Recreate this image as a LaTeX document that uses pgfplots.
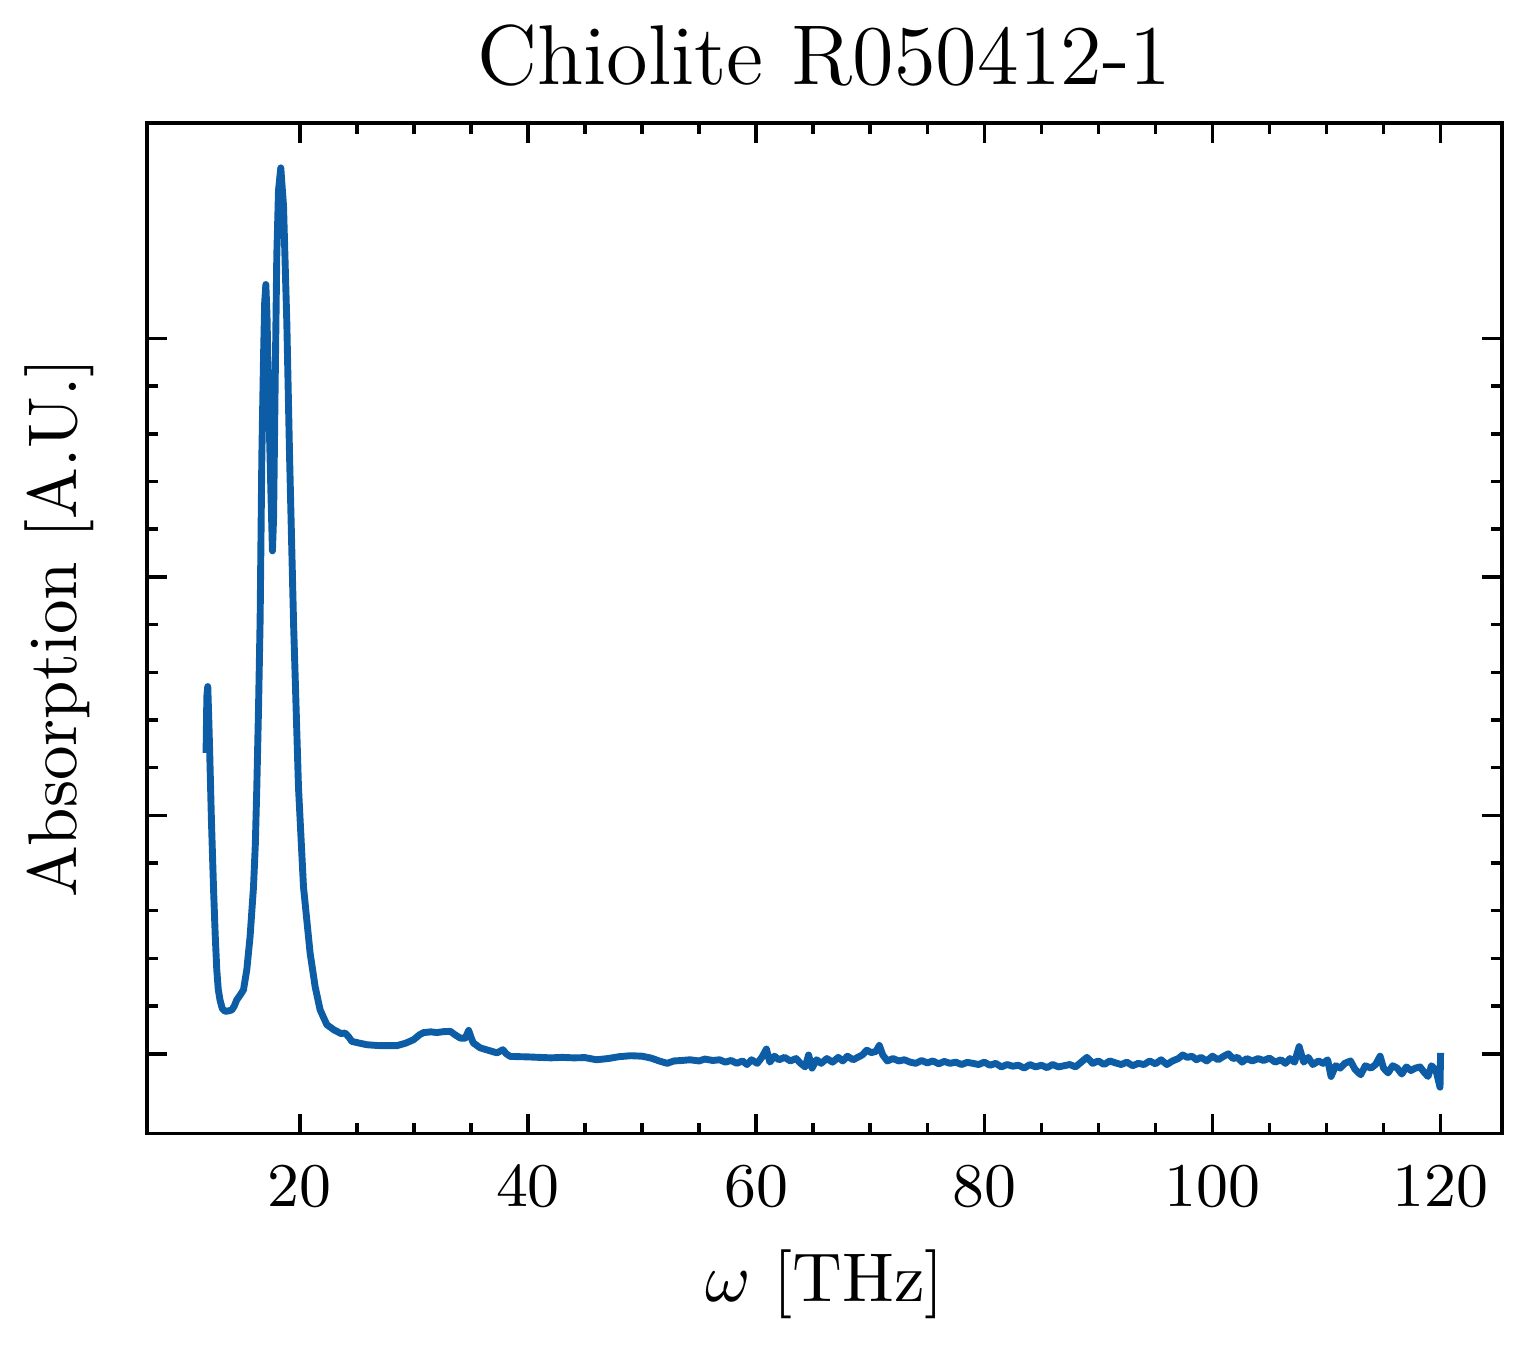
\documentclass[border=0pt]{standalone}
\usepackage{pgfplots}
\pgfplotsset{compat=1.18}
\definecolor{sciblue}{HTML}{0C5DA5}
\begin{document}
\begin{tikzpicture}
\begin{axis}[
  scale only axis,
  width=196.4pt, height=146.5pt,
  xmin=6.6, xmax=125.4,
  ymin=-0.335, ymax=3.904,
  xtick={20,40,60,80,100,120},
  minor x tick num=3,
  ytick={0,1,2,3},
  yticklabels={},
  minor y tick num=4,
  tick align=inside,
  xtick pos=both, ytick pos=both,
  xticklabel pos=bottom,
  major tick length=2.9pt,
  minor tick length=1.6pt,
  every tick/.style={black, line width=0.5pt},
  axis line style={line width=0.5pt},
  tick label style={font=\fontsize{9}{10}\selectfont},
  xticklabel style={anchor=base},
  xticklabel shift=10.6pt,
  xlabel={$\omega$ [THz]},
  ylabel={Absorption [A.U.]},
  label style={font=\fontsize{10}{12}\selectfont},
  xlabel style={at={(axis description cs:0.5,-0.166)}, anchor=base},
  ylabel style={at={(axis description cs:-0.0214,0.5)}, anchor=south},
  title={Chiolite R050412-1},
  every axis title shift=0pt,
  title style={font=\fontsize{12.3}{14}\selectfont, at={(axis description cs:0.5,1.038)}, anchor=base},
]
\addplot[sciblue, line width=1pt, line join=round] coordinates {
(11.78,1.262) (11.85,1.50) (11.93,1.54) (12.02,1.40) (12.10,1.262) (12.25,0.98)
(12.43,0.70) (12.58,0.50) (12.72,0.352) (12.85,0.27) (13.0,0.226) (13.2,0.19)
(13.45,0.178) (13.75,0.18) (14.04,0.184) (14.25,0.20) (14.47,0.226) (14.75,0.245)
(15.06,0.268) (15.35,0.352) (15.64,0.492) (15.94,0.70) (16.1,0.88) (16.23,1.12)
(16.38,1.45) (16.52,1.82) (16.67,2.507) (16.82,2.927) (16.92,3.15) (17.02,3.226)
(17.12,3.10) (17.25,2.78) (17.46,2.365) (17.6,2.109) (17.7,2.25) (17.83,2.78)
(17.98,3.346) (18.13,3.62) (18.33,3.715) (18.57,3.556) (18.86,3.065) (19.1,2.507)
(19.45,1.807) (19.88,1.12) (20.32,0.70) (20.9,0.423) (21.34,0.282) (21.78,0.184)
(22.37,0.122) (23.0,0.10) (23.25,0.094) (23.6,0.085) (23.97,0.087) (24.3,0.07)
(24.56,0.052) (25.2,0.045) (25.88,0.038) (27.04,0.034) (28.5,0.034) (29.3,0.045)
(29.97,0.059) (30.5,0.08) (30.85,0.089) (31.5,0.092) (32.0,0.089) (32.6,0.093)
(33.2,0.094) (33.6,0.08) (34.06,0.066) (34.5,0.066) (34.8,0.098) (35.0,0.07)
(35.2,0.046) (35.8,0.025) (36.5,0.015) (37.28,0.004) (37.8,0.017) (38.1,0.0)
(38.45,-0.011) (40.0,-0.013) (41.0,-0.015) (42.0,-0.017) (43.0,-0.015) (44.0,-0.017)
(45.0,-0.016) (46.0,-0.025) (47.0,-0.020) (48.0,-0.012) (49.0,-0.008) (50.0,-0.010)
(50.8,-0.018) (51.5,-0.030) (52.2,-0.040) (52.8,-0.030) (53.5,-0.028) (54.2,-0.025)
(55.0,-0.030) (55.5,-0.022) (56.2,-0.028) (56.8,-0.025) (57.3,-0.035) (57.8,-0.028)
(58.3,-0.040) (58.8,-0.030) (59.2,-0.045) (59.6,-0.025) (60.1,-0.040) (60.5,-0.015)
(60.9,0.020) (61.2,-0.035) (61.6,-0.010) (62.0,-0.025) (62.5,-0.015) (63.0,-0.030)
(63.5,-0.020) (63.9,-0.040) (64.3,-0.055) (64.6,-0.005) (64.9,-0.060) (65.3,-0.025)
(65.7,-0.040) (66.2,-0.020) (66.7,-0.035) (67.2,-0.015) (67.6,-0.030) (68.0,-0.010)
(68.5,-0.025) (68.9,-0.015) (69.3,-0.005) (69.7,0.015) (70.1,0.005) (70.5,0.010)
(70.8,0.035) (71.1,-0.005) (71.5,-0.030) (72.0,-0.020) (72.5,-0.030) (73.0,-0.025)
(73.5,-0.035) (74.0,-0.040) (74.5,-0.028) (75.0,-0.038) (75.5,-0.030) (76.0,-0.042)
(76.5,-0.032) (77.0,-0.040) (77.5,-0.035) (78.0,-0.045) (78.5,-0.036) (79.0,-0.040)
(79.5,-0.045) (80.0,-0.035) (80.5,-0.048) (81.0,-0.040) (81.5,-0.055) (82.0,-0.045)
(82.5,-0.052) (83.0,-0.048) (83.5,-0.060) (84.0,-0.045) (84.5,-0.055) (85.0,-0.048)
(85.5,-0.058) (86.0,-0.045) (86.5,-0.055) (87.0,-0.050) (87.5,-0.045) (88.0,-0.055)
(88.5,-0.035) (89.0,-0.015) (89.5,-0.040) (90.0,-0.030) (90.5,-0.045) (91.0,-0.030)
(91.5,-0.038) (92.0,-0.045) (92.5,-0.035) (93.0,-0.050) (93.5,-0.040) (94.0,-0.045)
(94.5,-0.030) (95.0,-0.042) (95.5,-0.025) (96.0,-0.045) (96.5,-0.030) (97.0,-0.020)
(97.4,-0.005) (97.8,-0.015) (98.2,-0.010) (98.6,-0.025) (99.0,-0.015) (99.5,-0.030)
(100.0,-0.010) (100.5,-0.025) (101.0,-0.010) (101.4,0.000) (101.8,-0.020) (102.2,-0.015)
(102.6,-0.035) (103.0,-0.020) (103.5,-0.030) (104.0,-0.020) (104.5,-0.028) (105.0,-0.018)
(105.5,-0.035) (106.0,-0.025) (106.4,-0.040) (106.8,-0.020) (107.2,-0.035) (107.6,0.030)
(108.0,-0.035) (108.4,-0.015) (108.8,-0.045) (109.3,-0.030) (109.7,-0.040) (110.1,-0.025)
(110.4,-0.095) (110.8,-0.050) (111.2,-0.060) (111.6,-0.040) (112.1,-0.030) (112.5,-0.065)
(113.0,-0.088) (113.4,-0.050) (113.9,-0.060) (114.3,-0.045) (114.7,-0.010) (115.0,-0.060)
(115.4,-0.080) (115.8,-0.050) (116.2,-0.060) (116.6,-0.085) (117.0,-0.055) (117.4,-0.070)
(117.8,-0.060) (118.2,-0.055) (118.6,-0.080) (118.9,-0.095) (119.2,-0.050) (119.6,-0.070)
(119.8,-0.110) (119.95,-0.140) (120.0,0.004)
};
\end{axis}
\path (current axis.south west) ++(-21.3pt,-30.6pt) coordinate (bl);
\path (current axis.north east) ++(3.6pt,17.8pt) coordinate (tr);
\pgfresetboundingbox
\path (bl) rectangle (tr);
\end{tikzpicture}
\end{document}
